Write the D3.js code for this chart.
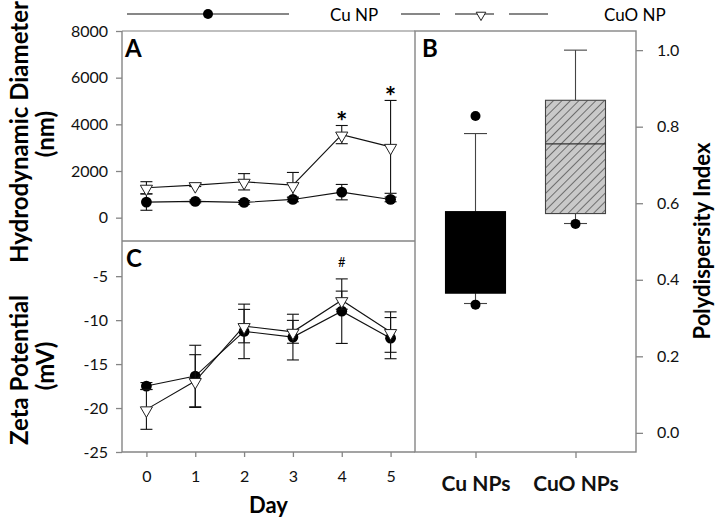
<!DOCTYPE html>
<html><head><meta charset="utf-8">
<script src="https://cdn.jsdelivr.net/npm/d3@7"></script>
<style>
body{margin:0;background:#fff;}
svg{display:block;font-family:Lato,"Open Sans",sans-serif;}
</style></head>
<body><svg id="chart" width="721" height="526"></svg>
<script>
// ---- data ----
const days = [0, 1, 2, 3, 4, 5];
const seriesNames = ["Cu NP", "CuO NP"];
const cuHD = [667, 697, 654, 782, 1094, 782];
const cuHDErr = [350, 60, 80, 100, 330, 100];
const cuoHD = [1282, 1393, 1538, 1393, 3560, 3034];
const cuoHDErr = [260, 60, 350, 545, 390, 1990];
const cuZeta = [-17.5, -16.36, -11.28, -11.93, -8.98, -12.05];
const cuZetaErr = [0.4, 3.5, 3.1, 2.6, 3.67, 2.34];
const cuoZeta = [-20.15, -16.93, -10.68, -11.33, -7.73, -11.36];
const cuoZetaErr = [2.27, 3.0, 1.9, 1.3, 1.03, 2.3];
const hdTicks = [0, 2000, 4000, 6000, 8000];
const zetaTicks = [-25, -20, -15, -10, -5];
const pdiTicks = [0, 0.2, 0.4, 0.6, 0.8, 1.0];
const hdStarDays = [4, 5];       // "*"
const zetaHashDays = [4];        // "#"
const groups = ["Cu NPs", "CuO NPs"];
const boxQ1 = [0.365, 0.573];
const boxQ3 = [0.578, 0.869];
const boxMedian = [0.47, 0.755];
const whiskerLow = [0.338, 0.547];
const whiskerHigh = [0.782, 1.0];
const outliers = [[0.828, 0.335], [0.546]];

// ---- layout ----
const svg = d3.select("#chart");
const L = 122, R = 415, BR = 636, T = 31, MID = 241, B = 452;
const frame = "#858585";

const x = d3.scaleLinear().domain([-0.5, 5.5]).range([L, R]);
const yA = d3.scaleLinear().domain([-1000, 8000]).range([MID, T]);
const yC = d3.scaleLinear().domain([-25, -1]).range([B, MID]);
const xB = d3.scalePoint().domain(groups).range([R, BR]).padding(0.605);
const yB = d3.scaleLinear().domain([-0.05, 1.05]).range([B, T]);

// hatch pattern
const defs = svg.append("defs");
const pat = defs.append("pattern").attr("id", "hatch").attr("patternUnits", "userSpaceOnUse")
  .attr("width", 6).attr("height", 6).attr("patternTransform", "rotate(45)");
pat.append("rect").attr("width", 6).attr("height", 6).attr("fill", "#c9c9c9");
pat.append("line").attr("x1", 0).attr("y1", 0).attr("x2", 0).attr("y2", 6)
  .attr("stroke", "#222").attr("stroke-width", 1.1);

// frames
const fr = svg.append("g").attr("fill", "none").attr("stroke", frame).attr("stroke-width", 1.4);
fr.append("line").attr("x1", L).attr("x2", R).attr("y1", T).attr("y2", T).attr("stroke", "#aaa");
fr.append("line").attr("x1", L).attr("x2", R).attr("y1", MID).attr("y2", MID);
fr.append("rect").attr("x", R).attr("y", T).attr("width", BR - R).attr("height", B - T);
fr.append("line").attr("x1", L).attr("x2", R).attr("y1", B).attr("y2", B);
fr.append("line").attr("x1", L).attr("x2", L).attr("y1", T).attr("y2", B);

function styleAxis(g, size) {
  g.select(".domain").remove();
  g.selectAll(".tick line").attr("stroke", frame).attr("stroke-width", 1.3);
  g.selectAll(".tick text").attr("fill", "#111").style("font-size", size + "px")
    .style("font-family", "Lato, sans-serif");
}
svg.append("g").attr("transform", `translate(${L},0)`)
  .call(d3.axisLeft(yA).tickValues(hdTicks).tickSize(6).tickPadding(8).tickFormat(d3.format("d")))
  .call(g => styleAxis(g, 16));
svg.append("g").attr("transform", `translate(${L},0)`)
  .call(d3.axisLeft(yC).tickValues(zetaTicks).tickSize(6).tickPadding(8).tickFormat(d => d))
  .call(g => styleAxis(g, 16));
svg.append("g").attr("transform", `translate(0,${B})`)
  .call(d3.axisBottom(x).tickValues(days).tickSize(5).tickPadding(14).tickFormat(d3.format("d")))
  .call(g => styleAxis(g, 16));
svg.append("g").attr("transform", `translate(0,${B})`)
  .call(d3.axisBottom(xB).tickSize(6).tickPadding(18))
  .call(g => { styleAxis(g, 21); g.selectAll(".tick text").style("font-weight", "bold"); });
svg.append("g").attr("transform", `translate(${BR},0)`)
  .call(d3.axisRight(yB).tickValues(pdiTicks).tickSize(7).tickPadding(14).tickFormat(d3.format(".1f")))
  .call(g => styleAxis(g, 16));

// series drawing
function drawSeries(g, y, vals, errs, kind) {
  const pts = days.map((d, i) => ({ d, v: vals[i], e: errs[i] }));
  g.append("path").datum(pts)
    .attr("d", d3.line().x(p => x(p.d)).y(p => y(p.v)))
    .attr("fill", "none").attr("stroke", "#111").attr("stroke-width", 1.1);
  const eb = g.append("g").attr("stroke", "#111").attr("stroke-width", 1.1);
  pts.forEach(p => {
    eb.append("line").attr("x1", x(p.d)).attr("x2", x(p.d)).attr("y1", y(p.v - p.e)).attr("y2", y(p.v + p.e));
    [p.v - p.e, p.v + p.e].forEach(v => eb.append("line")
      .attr("x1", x(p.d) - 6).attr("x2", x(p.d) + 6).attr("y1", y(v)).attr("y2", y(v)));
  });
  if (kind === "circle") {
    g.selectAll(null).data(pts).join("circle")
      .attr("cx", p => x(p.d)).attr("cy", p => y(p.v)).attr("r", 5.4).attr("fill", "#000");
  } else {
    g.selectAll(null).data(pts).join("path")
      .attr("d", d3.symbol(d3.symbolTriangle, 64))
      .attr("transform", p => `translate(${x(p.d)},${y(p.v) + 1}) rotate(180)`)
      .attr("fill", "#fff").attr("stroke", "#222").attr("stroke-width", 1);
  }
}
drawSeries(svg.append("g"), yA, cuHD, cuHDErr, "circle");
drawSeries(svg.append("g"), yA, cuoHD, cuoHDErr, "tri");
drawSeries(svg.append("g"), yC, cuZeta, cuZetaErr, "circle");
drawSeries(svg.append("g"), yC, cuoZeta, cuoZetaErr, "tri");

// significance marks
hdStarDays.forEach(d => {
  const i = days.indexOf(d);
  const top = Math.max(cuHD[i] + cuHDErr[i], cuoHD[i] + cuoHDErr[i]);
  svg.append("text").attr("x", x(d)).attr("y", yA(top) - 16).attr("dy", "0.78em")
    .attr("text-anchor", "middle").style("font-size", "27px").style("font-weight", "bold").text("*");
});
zetaHashDays.forEach(d => {
  const i = days.indexOf(d);
  const top = Math.max(cuZeta[i] + cuZetaErr[i], cuoZeta[i] + cuoZetaErr[i]);
  svg.append("text").attr("x", x(d)).attr("y", yC(top) - 16).attr("dy", "0.35em")
    .attr("text-anchor", "middle").style("font-size", "13px").text("#");
});

// box plots
const bw = 60, cw = 23;
groups.forEach((gName, i) => {
  const cx = xB(gName);
  const g = svg.append("g");
  g.append("line").attr("x1", cx).attr("x2", cx).attr("y1", yB(whiskerHigh[i])).attr("y2", yB(boxQ3[i]))
    .attr("stroke", "#444").attr("stroke-width", 1.1);
  g.append("line").attr("x1", cx).attr("x2", cx).attr("y1", yB(whiskerLow[i])).attr("y2", yB(boxQ1[i]))
    .attr("stroke", "#444").attr("stroke-width", 1.1);
  [whiskerHigh[i], whiskerLow[i]].forEach(v => g.append("line")
    .attr("x1", cx - cw / 2).attr("x2", cx + cw / 2).attr("y1", yB(v)).attr("y2", yB(v))
    .attr("stroke", "#444").attr("stroke-width", 1.1));
  g.append("rect").attr("x", cx - bw / 2).attr("width", bw)
    .attr("y", yB(boxQ3[i])).attr("height", yB(boxQ1[i]) - yB(boxQ3[i]))
    .attr("fill", i === 0 ? "#000" : "url(#hatch)").attr("stroke", i === 0 ? "#000" : "#444").attr("stroke-width", 1.1);
  g.append("line").attr("x1", cx - bw / 2).attr("x2", cx + bw / 2)
    .attr("y1", yB(boxMedian[i])).attr("y2", yB(boxMedian[i]))
    .attr("stroke", i === 0 ? "#000" : "#333").attr("stroke-width", 1.1);
  outliers[i].forEach(v => g.append("circle").attr("cx", cx).attr("cy", yB(v)).attr("r", 5).attr("fill", "#000"));
});

// panel letters
[["A", 125, 57], ["B", 422, 57], ["C", 126, 267]].forEach(([t, px, py]) =>
  svg.append("text").attr("x", px).attr("y", py).style("font-size", "24px").style("font-weight", "bold").text(t));

// axis titles
function vtext(t, cx, cy, size) {
  svg.append("text").attr("transform", `translate(${cx},${cy}) rotate(-90)`)
    .attr("text-anchor", "middle").attr("dominant-baseline", "central")
    .style("font-size", size + "px").style("font-weight", "bold").text(t);
}
vtext("Hydrodynamic Diameter", 18, 132, 24);
vtext("(nm)", 44, 134, 24);
vtext("Zeta Potential", 18, 370, 24);
vtext("(mV)", 44, 366, 24);
vtext("Polydispersity Index", 701, 241, 22);
svg.append("text").attr("x", (L + R) / 2).attr("y", 513).attr("text-anchor", "middle")
  .style("font-size", "22px").style("font-weight", "bold").text("Day");

// legend
const lg = svg.append("g");
lg.append("line").attr("x1", 127).attr("x2", 289).attr("y1", 14).attr("y2", 14).attr("stroke", "#111").attr("stroke-width", 1.1);
lg.append("circle").attr("cx", 208).attr("cy", 14).attr("r", 5).attr("fill", "#000");
lg.append("text").attr("x", 330).attr("y", 14).attr("dominant-baseline", "central").style("font-size", "17px").text(seriesNames[0]);
lg.append("line").attr("x1", 401).attr("x2", 548).attr("y1", 14).attr("y2", 14)
  .attr("stroke", "#111").attr("stroke-width", 1.1).attr("stroke-dasharray", "39,15");
lg.append("path").attr("d", d3.symbol(d3.symbolTriangle, 40))
  .attr("transform", "translate(481,15) rotate(180)").attr("fill", "#fff").attr("stroke", "#222");
lg.append("text").attr("x", 604).attr("y", 14).attr("dominant-baseline", "central").style("font-size", "17px").text(seriesNames[1]);
</script></body></html>
